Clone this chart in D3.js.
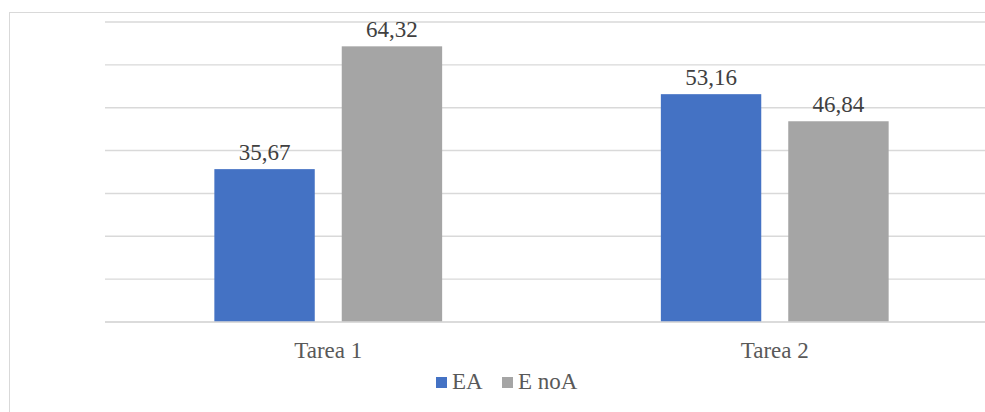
<!DOCTYPE html>
<html>
<head>
<meta charset="utf-8">
<script src="https://cdn.jsdelivr.net/npm/d3@7/dist/d3.min.js"></script>
<style>
  html, body { margin: 0; padding: 0; background: #fff; }
  svg { display: block; }
</style>
</head>
<body>
<svg id="chart" width="985" height="412"></svg>
<script>
// Chart data
const categories = ["Tarea 1", "Tarea 2"];
const seriesNames = ["EA", "E noA"];
const seriesColors = ["#4472c4", "#a5a5a5"];
const valuesEA = [35.67, 53.16];
const valuesENoA = [64.32, 46.84];
const gridTicks = [0, 10, 20, 30, 40, 50, 60, 70];

const FONT = "'Liberation Serif', Tinos, 'Times New Roman', 'DejaVu Serif', serif";
const FONT_SIZE = "23px";

const seriesValues = [valuesEA, valuesENoA];
const rows = categories.map((c, i) => ({
  category: c,
  values: seriesNames.map((s, j) => ({ series: s, value: seriesValues[j][i], color: seriesColors[j] }))
}));

const svg = d3.select("#chart");

// Chart area frame
svg.append("rect")
  .attr("x", 9.5).attr("y", 12.5)
  .attr("width", 1000).attr("height", 420)
  .attr("fill", "none").attr("stroke", "#d9d9d9").attr("stroke-width", 1);

const plot = { left: 105, right: 998, top: 22, bottom: 322 };

const x0 = d3.scaleBand()
  .domain(categories)
  .range([plot.left, plot.right])
  .paddingInner(0).paddingOuter(0);

const barW = 100.4, barGap = 27;
const x1 = d3.scaleBand()
  .domain(seriesNames)
  .range([0, barW * 2 + barGap])
  .paddingInner(barGap / (barW + barGap))
  .paddingOuter(0);

const y = d3.scaleLinear().domain([0, 70]).range([plot.bottom, plot.top]);

// Horizontal gridlines
svg.append("g")
  .selectAll("line")
  .data(gridTicks)
  .join("line")
  .attr("x1", plot.left).attr("x2", plot.right)
  .attr("y1", d => y(d)).attr("y2", d => y(d))
  .attr("stroke", "#d9d9d9").attr("stroke-width", 1.4);

// Bars
const groups = svg.append("g")
  .selectAll("g")
  .data(rows)
  .join("g")
  .attr("transform", d => `translate(${x0(d.category) + (x0.bandwidth() - (barW * 2 + barGap)) / 2},0)`);

groups.selectAll("rect")
  .data(d => d.values)
  .join("rect")
  .attr("x", d => x1(d.series))
  .attr("width", x1.bandwidth())
  .attr("y", d => y(d.value))
  .attr("height", d => y(0) - y(d.value))
  .attr("fill", d => d.color);

// Value labels
const fmt = v => v.toFixed(2).replace(".", ",");
groups.selectAll("text")
  .data(d => d.values)
  .join("text")
  .attr("x", d => x1(d.series) + x1.bandwidth() / 2)
  .attr("y", d => y(d.value) - 9)
  .attr("text-anchor", "middle")
  .style("font-family", FONT)
  .style("font-size", FONT_SIZE)
  .attr("fill", "#404040")
  .text(d => fmt(d.value));

// Baseline
svg.append("line")
  .attr("x1", plot.left).attr("x2", plot.right)
  .attr("y1", y(0)).attr("y2", y(0))
  .attr("stroke", "#d9d9d9").attr("stroke-width", 1.6);

// Category axis labels
svg.append("g")
  .selectAll("text")
  .data(categories)
  .join("text")
  .attr("x", d => x0(d) + x0.bandwidth() / 2)
  .attr("y", 358)
  .attr("text-anchor", "middle")
  .style("font-family", FONT)
  .style("font-size", FONT_SIZE)
  .attr("fill", "#595959")
  .text(d => d);

// Legend
const legendItems = seriesNames.map((s, i) => ({ name: s, color: seriesColors[i] }));
const legendX = [436, 502];
const legend = svg.append("g")
  .selectAll("g")
  .data(legendItems)
  .join("g")
  .attr("transform", (d, i) => `translate(${legendX[i]},377)`);
legend.append("rect")
  .attr("width", 11).attr("height", 11)
  .attr("fill", d => d.color);
legend.append("text")
  .attr("x", 16).attr("y", 12)
  .style("font-family", FONT)
  .style("font-size", FONT_SIZE)
  .attr("fill", "#595959")
  .text(d => d.name);
</script>
</body>
</html>
